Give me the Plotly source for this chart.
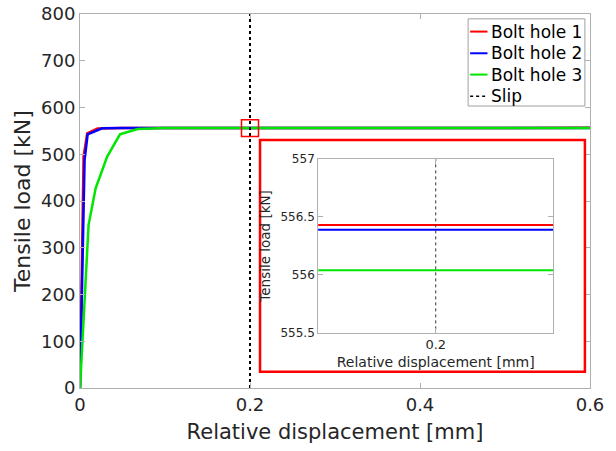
import plotly.graph_objects as go

# ---- data ----
disp_1 = [0, 0.0042, 0.0085, 0.0207, 0.05, 0.1, 0.2, 0.3, 0.4, 0.5, 0.6]
load_1 = [0, 495, 544.5, 555.2, 556.3, 556.43, 556.43, 556.43, 556.43, 556.43, 556.43]
disp_2 = [0, 0.0054, 0.009, 0.026, 0.05, 0.1, 0.2, 0.3, 0.4, 0.5, 0.6]
load_2 = [0, 488, 542.5, 555.5, 556.2, 556.39, 556.39, 556.39, 556.39, 556.39, 556.39]
disp_3 = [0, 0.0101, 0.0184, 0.032, 0.047, 0.0678, 0.1, 0.2, 0.3, 0.4, 0.5, 0.6]
load_3 = [0, 349, 427, 495, 542.6, 554.0, 556.04, 556.04, 556.04, 556.04, 556.04, 556.04]
slip_x = [0.2, 0.2]
slip_y = [0, 800]
series_names = ["Bolt hole 1", "Bolt hole 2", "Bolt hole 3"]
series_colors = ["#ff0000", "#0000ff", "#00e600"]
x_ticks = [0, 0.2, 0.4, 0.6]
y_ticks = [0, 100, 200, 300, 400, 500, 600, 700, 800]
inset_y_ticks = [555.5, 556, 556.5, 557]

FONT = "DejaVu Sans, sans-serif"
fig = go.Figure()
xs = [disp_1, disp_2, disp_3]
ys = [load_1, load_2, load_3]
for i in range(3):
    fig.add_trace(go.Scatter(x=xs[i], y=ys[i], mode="lines", name=series_names[i],
                             line=dict(color=series_colors[i], width=2.5)))
fig.add_trace(go.Scatter(x=slip_x, y=slip_y, mode="lines", name="Slip",
                         line=dict(color="black", width=2, dash="dot")))
# inset traces
for i in range(3):
    fig.add_trace(go.Scatter(x=xs[i], y=ys[i], mode="lines", showlegend=False,
                             line=dict(color=series_colors[i], width=2),
                             xaxis="x2", yaxis="y2"))
fig.add_trace(go.Scatter(x=slip_x, y=slip_y, mode="lines", showlegend=False,
                         line=dict(color="#333333", width=1, dash="dot"),
                         xaxis="x2", yaxis="y2"))

axis_common = dict(showgrid=False, zeroline=False, showline=True, linecolor="#b0b0b0",
                   linewidth=1, mirror="ticks", ticks="inside", tickcolor="#b0b0b0",
                   ticklen=5, automargin=False)

fig.update_layout(
    width=616, height=451,
    margin=dict(l=80, r=26, t=14, b=63),
    paper_bgcolor="white", plot_bgcolor="white",
    font=dict(family=FONT, color="#262626"),
    xaxis=dict(range=[0, 0.6], tickvals=x_ticks, ticktext=["0", "0.2", "0.4", "0.6"],
               tickfont=dict(size=18),
               title=dict(text="Relative displacement [mm]", font=dict(size=21), standoff=10),
               **axis_common),
    yaxis=dict(range=[0, 800], tickvals=y_ticks, tickfont=dict(size=18),
               title=dict(text="Tensile load [kN]", font=dict(size=22), standoff=4),
               **axis_common),
    xaxis2=dict(domain=[0.467, 0.928], anchor="y2", range=[0.19, 0.21], tickvals=[0.2],
                ticktext=["0.2"], tickfont=dict(size=13),
                title=dict(text="Relative displacement [mm]", font=dict(size=14), standoff=5),
                **axis_common),
    yaxis2=dict(domain=[0.148, 0.612], anchor="x2", range=[555.5, 557],
                tickvals=inset_y_ticks, ticktext=["555.5", "556", "556.5", "557"],
                tickfont=dict(size=12),
                title=dict(text="Tensile load [kN]", font=dict(size=13.5), standoff=6),
                **axis_common),
    showlegend=False,
)

# inset red frame (paper coords) and zoom marker (data coords)
fig.add_shape(type="rect", xref="paper", yref="paper", x0=0.353, x1=0.990, y0=0.0436, y1=0.663,
              line=dict(color="#ff0000", width=2.5), fillcolor="rgba(0,0,0,0)", layer="above")
fig.add_shape(type="rect", xref="x", yref="y", x0=0.19, x1=0.21, y0=538, y1=574,
              line=dict(color="#ff0000", width=1.5), layer="above")

# legend box (MATLAB-style compact legend)
fig.add_shape(type="rect", xref="paper", yref="paper", x0=0.761, x1=0.990, y0=0.754, y1=0.987,
              line=dict(color="#a0a0a0", width=1), fillcolor="white", layer="above")
legend_names = series_names + ["Slip"]
legend_colors = series_colors + ["black"]
legend_dash = ["solid", "solid", "solid", "dot"]
row_y = [0.953, 0.895, 0.838, 0.780]
for i in range(4):
    fig.add_shape(type="line", xref="paper", yref="paper", x0=0.765, x1=0.799,
                  y0=row_y[i], y1=row_y[i],
                  line=dict(color=legend_colors[i], width=2 if i < 3 else 1.5, dash=legend_dash[i]),
                  layer="above")
    fig.add_annotation(xref="paper", yref="paper", x=0.802, y=row_y[i], text=legend_names[i],
                       showarrow=False, xanchor="left", yanchor="middle",
                       font=dict(size=17, color="black", family=FONT))

fig.write_html("out.html", config={"displayModeBar": False},
               post_script="document.body.style.margin='0px';")
